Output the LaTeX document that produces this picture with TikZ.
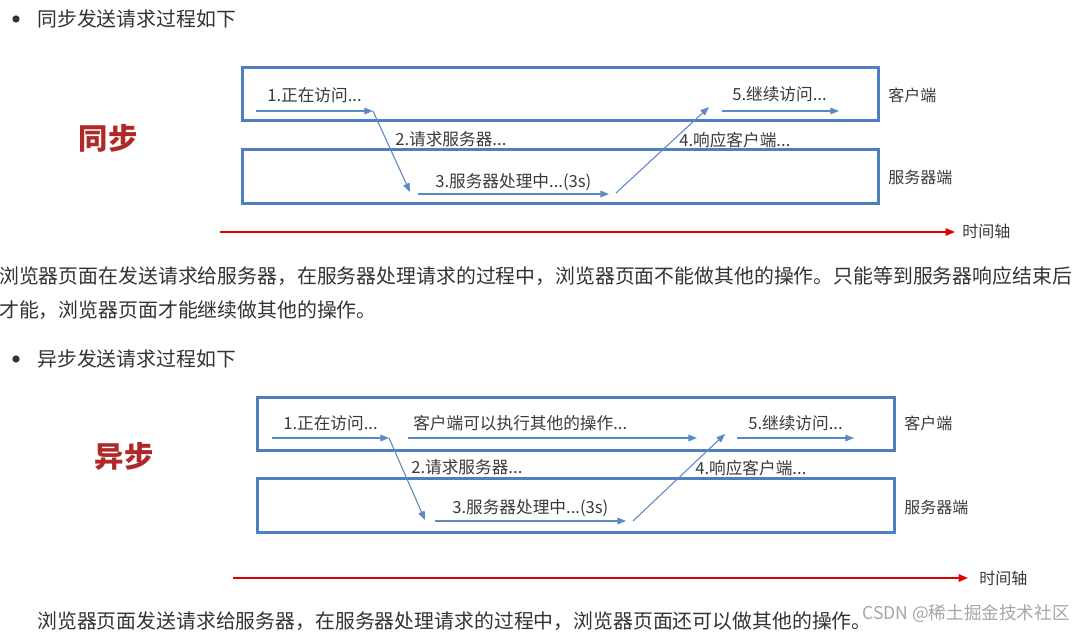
\documentclass[tikz,border=0pt]{standalone}
\usepackage{fontspec}
\setmainfont{Noto Sans CJK SC}
\usetikzlibrary{arrows.meta}
\definecolor{boxblue}{HTML}{4F7FBF}
\definecolor{arrblue}{HTML}{5A8AC6}
\definecolor{txt}{HTML}{333333}
\definecolor{lbl}{HTML}{3A3A3A}
\definecolor{bigred}{HTML}{B02828}
\definecolor{axisred}{HTML}{E00000}
\tikzset{
  box/.style={draw=boxblue,line width=2.25pt,inner sep=0pt},
  flow/.style={draw=arrblue,line width=0.8pt,-{Triangle[length=6.5pt,width=5pt]}},
  timeaxis/.style={draw=axisred,line width=1.2pt,-{Triangle[length=7pt,width=5.5pt]}},
  lab/.style={anchor=west,inner sep=0pt,text=lbl,font=\fontsize{12pt}{14pt}\selectfont},
  steplab/.style={anchor=west,inner sep=0pt,text=lbl,font=\fontsize{12.5pt}{14pt}\selectfont},
  body/.style={anchor=west,inner sep=0pt,text=txt,font=\fontsize{14.9pt}{18pt}\selectfont},
  big/.style={inner sep=0pt,text=bigred,font=\fontsize{22pt}{26pt}\selectfont\bfseries},
  dot/.style={circle,fill=txt,inner sep=0pt,minimum size=5.5pt},
}
\begin{document}
\begin{tikzpicture}[x=0.75pt,y=-0.75pt]
\useasboundingbox[fill=white] (0,0) rectangle (1079,634);

% ---------- synchronous ----------
\node[dot] (b1) at (16,19) {};
\node[body] (h1) at (37,19) {同步发送请求过程如下};
\node[big] (s1) at (108,138) {同步};

\node[box,minimum width=477pt,minimum height=39.75pt] (sc) at (560,94.5) {};
\node[box,minimum width=477pt,minimum height=40.5pt] (ss) at (560,177) {};
\node[lab] (sct) at (888,95) {客户端};
\node[lab] (sst) at (888,177) {服务器端};

\coordinate (a1s) at (256,111);
\coordinate (a1e) at (373,111);
\coordinate (a2e) at (410,192);
\coordinate (a3s) at (418,194);
\coordinate (a3e) at (609,194);
\coordinate (a4s) at (616,193);
\coordinate (a4e) at (709,107);
\coordinate (a5s) at (722,111);
\coordinate (a5e) at (839,111);

\draw[flow] (a1s) -- (a1e);
\draw[flow] (a1e) -- (a2e);
\draw[flow] (a3s) -- (a3e);
\draw[flow] (a4s) -- (a4e);
\draw[flow] (a5s) -- (a5e);

\node[steplab] (t1) at (267,95) {1.正在访问...};
\node[steplab] (t2) at (395,139) {2.请求服务器...};
\node[steplab] (t3) at (435,182) {3.服务器处理中...(3s)};
\node[steplab] (t4) at (679,140) {4.响应客户端...};
\node[steplab] (t5) at (732,94) {5.继续访问...};

\coordinate (ax1s) at (220,232);
\coordinate (ax1e) at (955,232);
\draw[timeaxis] (ax1s) -- (ax1e);
\node[lab] (ax1t) at (962,231) {时间轴};

\node[body] (p1) at (-1,276) {浏览器页面在发送请求给服务器，在服务器处理请求的过程中，浏览器页面不能做其他的操作。只能等到服务器响应结束后};
\node[body] (p2) at (-1,310) {才能，浏览器页面才能继续做其他的操作。};

% ---------- asynchronous ----------
\node[dot] (b2) at (16,359) {};
\node[body] (h2) at (37,359) {异步发送请求过程如下};
\node[big] (s2) at (124,456) {异步};

\node[box,minimum width=477.75pt,minimum height=39.75pt] (ac) at (575.5,424.5) {};
\node[box,minimum width=477.75pt,minimum height=40.5pt] (as) at (575.5,506) {};
\node[lab] (act) at (904,423) {客户端};
\node[lab] (ast) at (904,507) {服务器端};

\coordinate (b1s) at (272,438);
\coordinate (b1e) at (389,438);
\coordinate (bos) at (408,438);
\coordinate (boe) at (697,438);
\coordinate (b2e) at (425,520);
\coordinate (b3s) at (435,521);
\coordinate (b3e) at (626,521);
\coordinate (b4s) at (633,521);
\coordinate (b4e) at (725,434);
\coordinate (b5s) at (737,438);
\coordinate (b5e) at (854,438);

\draw[flow] (b1s) -- (b1e);
\draw[flow] (bos) -- (boe);
\draw[flow] (b1e) -- (b2e);
\draw[flow] (b3s) -- (b3e);
\draw[flow] (b4s) -- (b4e);
\draw[flow] (b5s) -- (b5e);

\node[steplab] (u1) at (283,423) {1.正在访问...};
\node[steplab] (uo) at (413,423) {客户端可以执行其他的操作...};
\node[steplab] (u2) at (411,467) {2.请求服务器...};
\node[steplab] (u3) at (452,508) {3.服务器处理中...(3s)};
\node[steplab] (u4) at (695,468) {4.响应客户端...};
\node[steplab] (u5) at (748,423) {5.继续访问...};

\coordinate (ax2s) at (233,578);
\coordinate (ax2e) at (968,578);
\draw[timeaxis] (ax2s) -- (ax2e);
\node[lab] (ax2t) at (979,578) {时间轴};

\node[body] (p3) at (37,621) {浏览器页面发送请求给服务器，在服务器处理请求的过程中，浏览器页面还可以做其他的操作。};
\node[anchor=west,inner sep=0pt,text=black!35,font=\fontsize{13.2pt}{15pt}\selectfont] (wm) at (862,614) {CSDN @稀土掘金技术社区};
\end{tikzpicture}
\end{document}
